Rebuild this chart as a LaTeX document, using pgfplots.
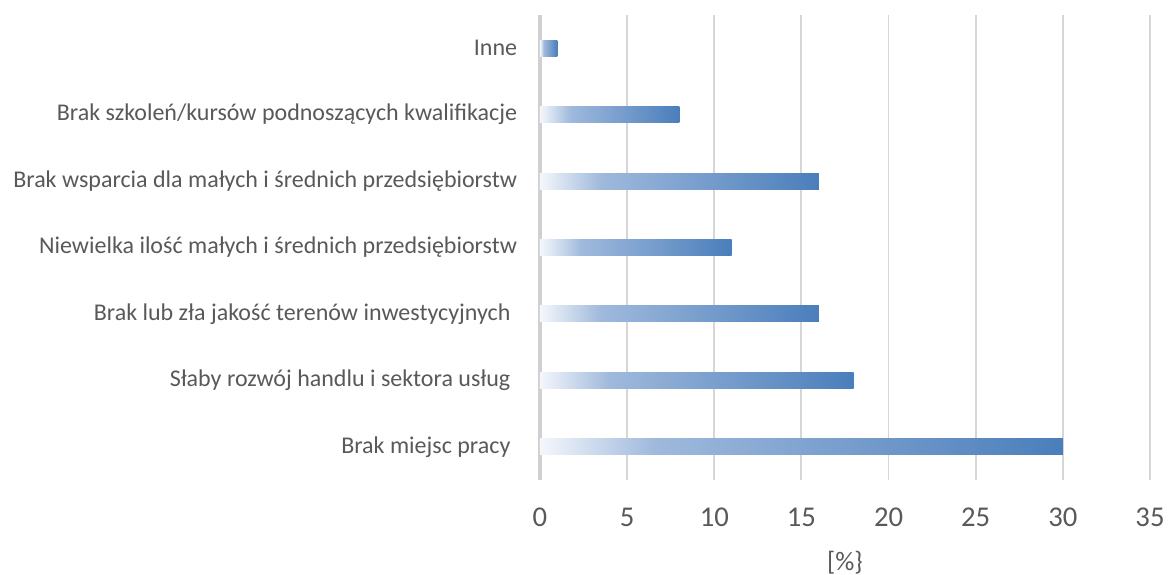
\documentclass[border=0pt]{standalone}
\usepackage{pgfplots}
\pgfplotsset{compat=1.18}
\usepackage{fontspec}
\setmainfont{Carlito}
\definecolor{txt}{HTML}{595959}
\definecolor{gridc}{HTML}{D6D6D6}
\definecolor{axc}{HTML}{D0D0D0}
\definecolor{shA}{HTML}{F4F7FB}
\definecolor{shB}{HTML}{9FB9DC}
\definecolor{shC}{HTML}{4A7EBB}
\pgfdeclarehorizontalshading{barshade}{100bp}{color(0bp)=(shA); color(25bp)=(shA); color(36bp)=(shB); color(75bp)=(shC); color(100bp)=(shC)}
\pgfplotsset{mybar/.style={xbar, bar width=12bp, bar shift=0pt, draw=none, shade, shading=barshade, forget plot}}
\begin{document}
\begin{tikzpicture}
\path (-405bp,-71.25bp) rectangle (472.5bp,360bp);
\begin{axis}[
  scale only axis,
  width=457.5bp, height=348.75bp,
  xmin=0, xmax=35, ymin=-0.5, ymax=6.5,
  xtick={0,5,...,35},
  ytick={0,...,6},
  yticklabels={Brak miejsc pracy\kern0.28em,
    Słaby rozwój handlu i sektora usług\kern0.28em,
    Brak lub zła jakość terenów inwestycyjnych\kern0.28em,
    Niewielka ilość małych i średnich przedsiębiorstw,
    Brak wsparcia dla małych i średnich przedsiębiorstw,
    Brak szkoleń/kursów podnoszących kwalifikacje,
    Inne},
  axis line style={draw=none},
  major tick length=0pt,
  xmajorgrids,
  grid style={gridc, line width=1.4pt},
  extra x ticks={0},
  extra x tick labels={},
  extra x tick style={grid style={axc, line width=2.4pt}},
  /pgf/number format/assume math mode=true,
  xticklabel style={font=\fontsize{21.5bp}{25bp}\selectfont, text=txt, inner sep=0pt, anchor=north, yshift=-21bp},
  yticklabel style={font=\fontsize{18bp}{22bp}\selectfont, text=txt, inner sep=0pt, anchor=east, xshift=-17bp},
  xlabel={[\%\}},
  xlabel style={font=\fontsize{20bp}{24bp}\selectfont, text=txt, inner sep=0pt, anchor=north, yshift=-18bp},
  clip=false,
]
\addplot[mybar] coordinates {(30,0)};
\addplot[mybar] coordinates {(18,1)};
\addplot[mybar] coordinates {(16,2)};
\addplot[mybar] coordinates {(11,3)};
\addplot[mybar] coordinates {(16,4)};
\addplot[mybar] coordinates {(8,5)};
\addplot[mybar] coordinates {(1,6)};
\end{axis}
\end{tikzpicture}
\end{document}
